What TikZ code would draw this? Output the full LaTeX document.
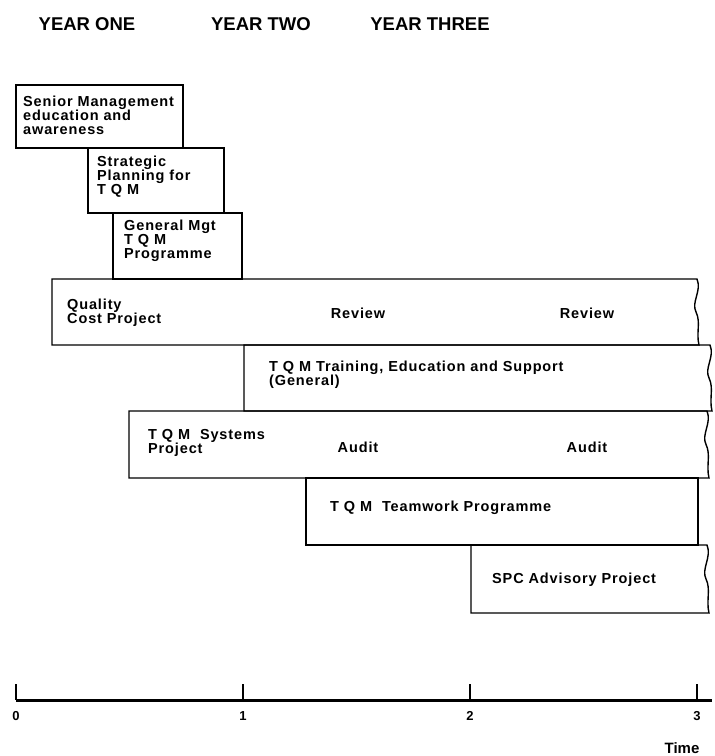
\documentclass[tikz,border=0pt]{standalone}
\usepackage{fontspec}
\setmainfont{Liberation Sans}
\newfontfamily\chartfont[LetterSpace=6]{Liberation Sans}
\usetikzlibrary{positioning}

% box whose right edge is torn (wavy)
\newcommand{\wavybar}[4]{%
  \draw[bar] (#1,#2) -- (#3,#2)
    .. controls +(5,12) and +(-5,-10) .. ++(-1,{(#4-#2)/2})
    .. controls +(5,10) and +(-3,-12) .. (#3+2,#4)
    -- (#1,#4) -- cycle;}

\begin{document}
\begin{tikzpicture}[
  x=1pt,y=-1pt,
  bar/.style={line width=1.4pt},
  task/.style={font=\chartfont\fontsize{14.5}{14}\selectfont\bfseries,align=left,anchor=west,inner sep=0pt},
  stage/.style={font=\chartfont\fontsize{14.5}{14}\selectfont\bfseries,inner sep=0pt},
  year/.style={font=\fontsize{18.5}{18.5}\selectfont\bfseries,inner sep=0pt},
  axis/.style={line width=3pt},
  tickmark/.style={line width=1.6pt},
  num/.style={font=\fontsize{13}{13}\selectfont\bfseries,inner sep=0pt}
]
  \useasboundingbox (0,0) rectangle (715,756);

  % headings
  \node[year] (Y1) at (87,24) {YEAR ONE};
  \node[year] (Y2) at (261,24) {YEAR TWO};
  \node[year] (Y3) at (430,24) {YEAR THREE};

  % bars
  \draw[bar] (16,85) rectangle (183,148);
  \draw[bar] (88,148) rectangle (224,213);
  \draw[bar] (113,213) rectangle (242,279);
  \wavybar{52}{279}{697}{345}
  \wavybar{244}{345}{710}{411}
  \wavybar{129}{411}{707}{478}
  \draw[bar] (306,478) rectangle (698,545);
  \wavybar{471}{545}{707}{613}

  % texts
  \node[task] (senior) at (23,115) {Senior Management\\education and\\awareness};
  \node[task] (strat) at (97,177) {Strategic\\Planning for\\T Q M};
  \node[task] (genmgt) at (124,241) {General Mgt\\T Q M\\Programme};
  \node[task] (qcost) at (67,313) {Quality\\Cost Project};
  \node[stage] (rev1) at (358,313) {Review};
  \node[stage] (rev2) at (587,313) {Review};
  \node[task] (train) at (269,375) {T Q M Training, Education and Support\\(General)};
  \node[task] (sys) at (148,443) {T Q M\ \ Systems\\Project};
  \node[stage] (aud1) at (358,447) {Audit};
  \node[stage] (aud2) at (587,447) {Audit};
  \node[task] (team) at (330,508) {T Q M\ \ Teamwork Programme};
  \node[task] (spc) at (492,580) {SPC Advisory Project};

  % time axis
  \draw[axis] (16,700) -- (712,700);
  \foreach \i in {0,...,3} {
    \draw[tickmark] ({16+227*\i},684) -- ({16+227*\i},700);
    \node[num] (t\i) at ({16+227*\i},716) {\i};
  }
  \node[num,font=\fontsize{15}{15}\selectfont\bfseries] (time) at (682,748) {Time};
\end{tikzpicture}
\end{document}
